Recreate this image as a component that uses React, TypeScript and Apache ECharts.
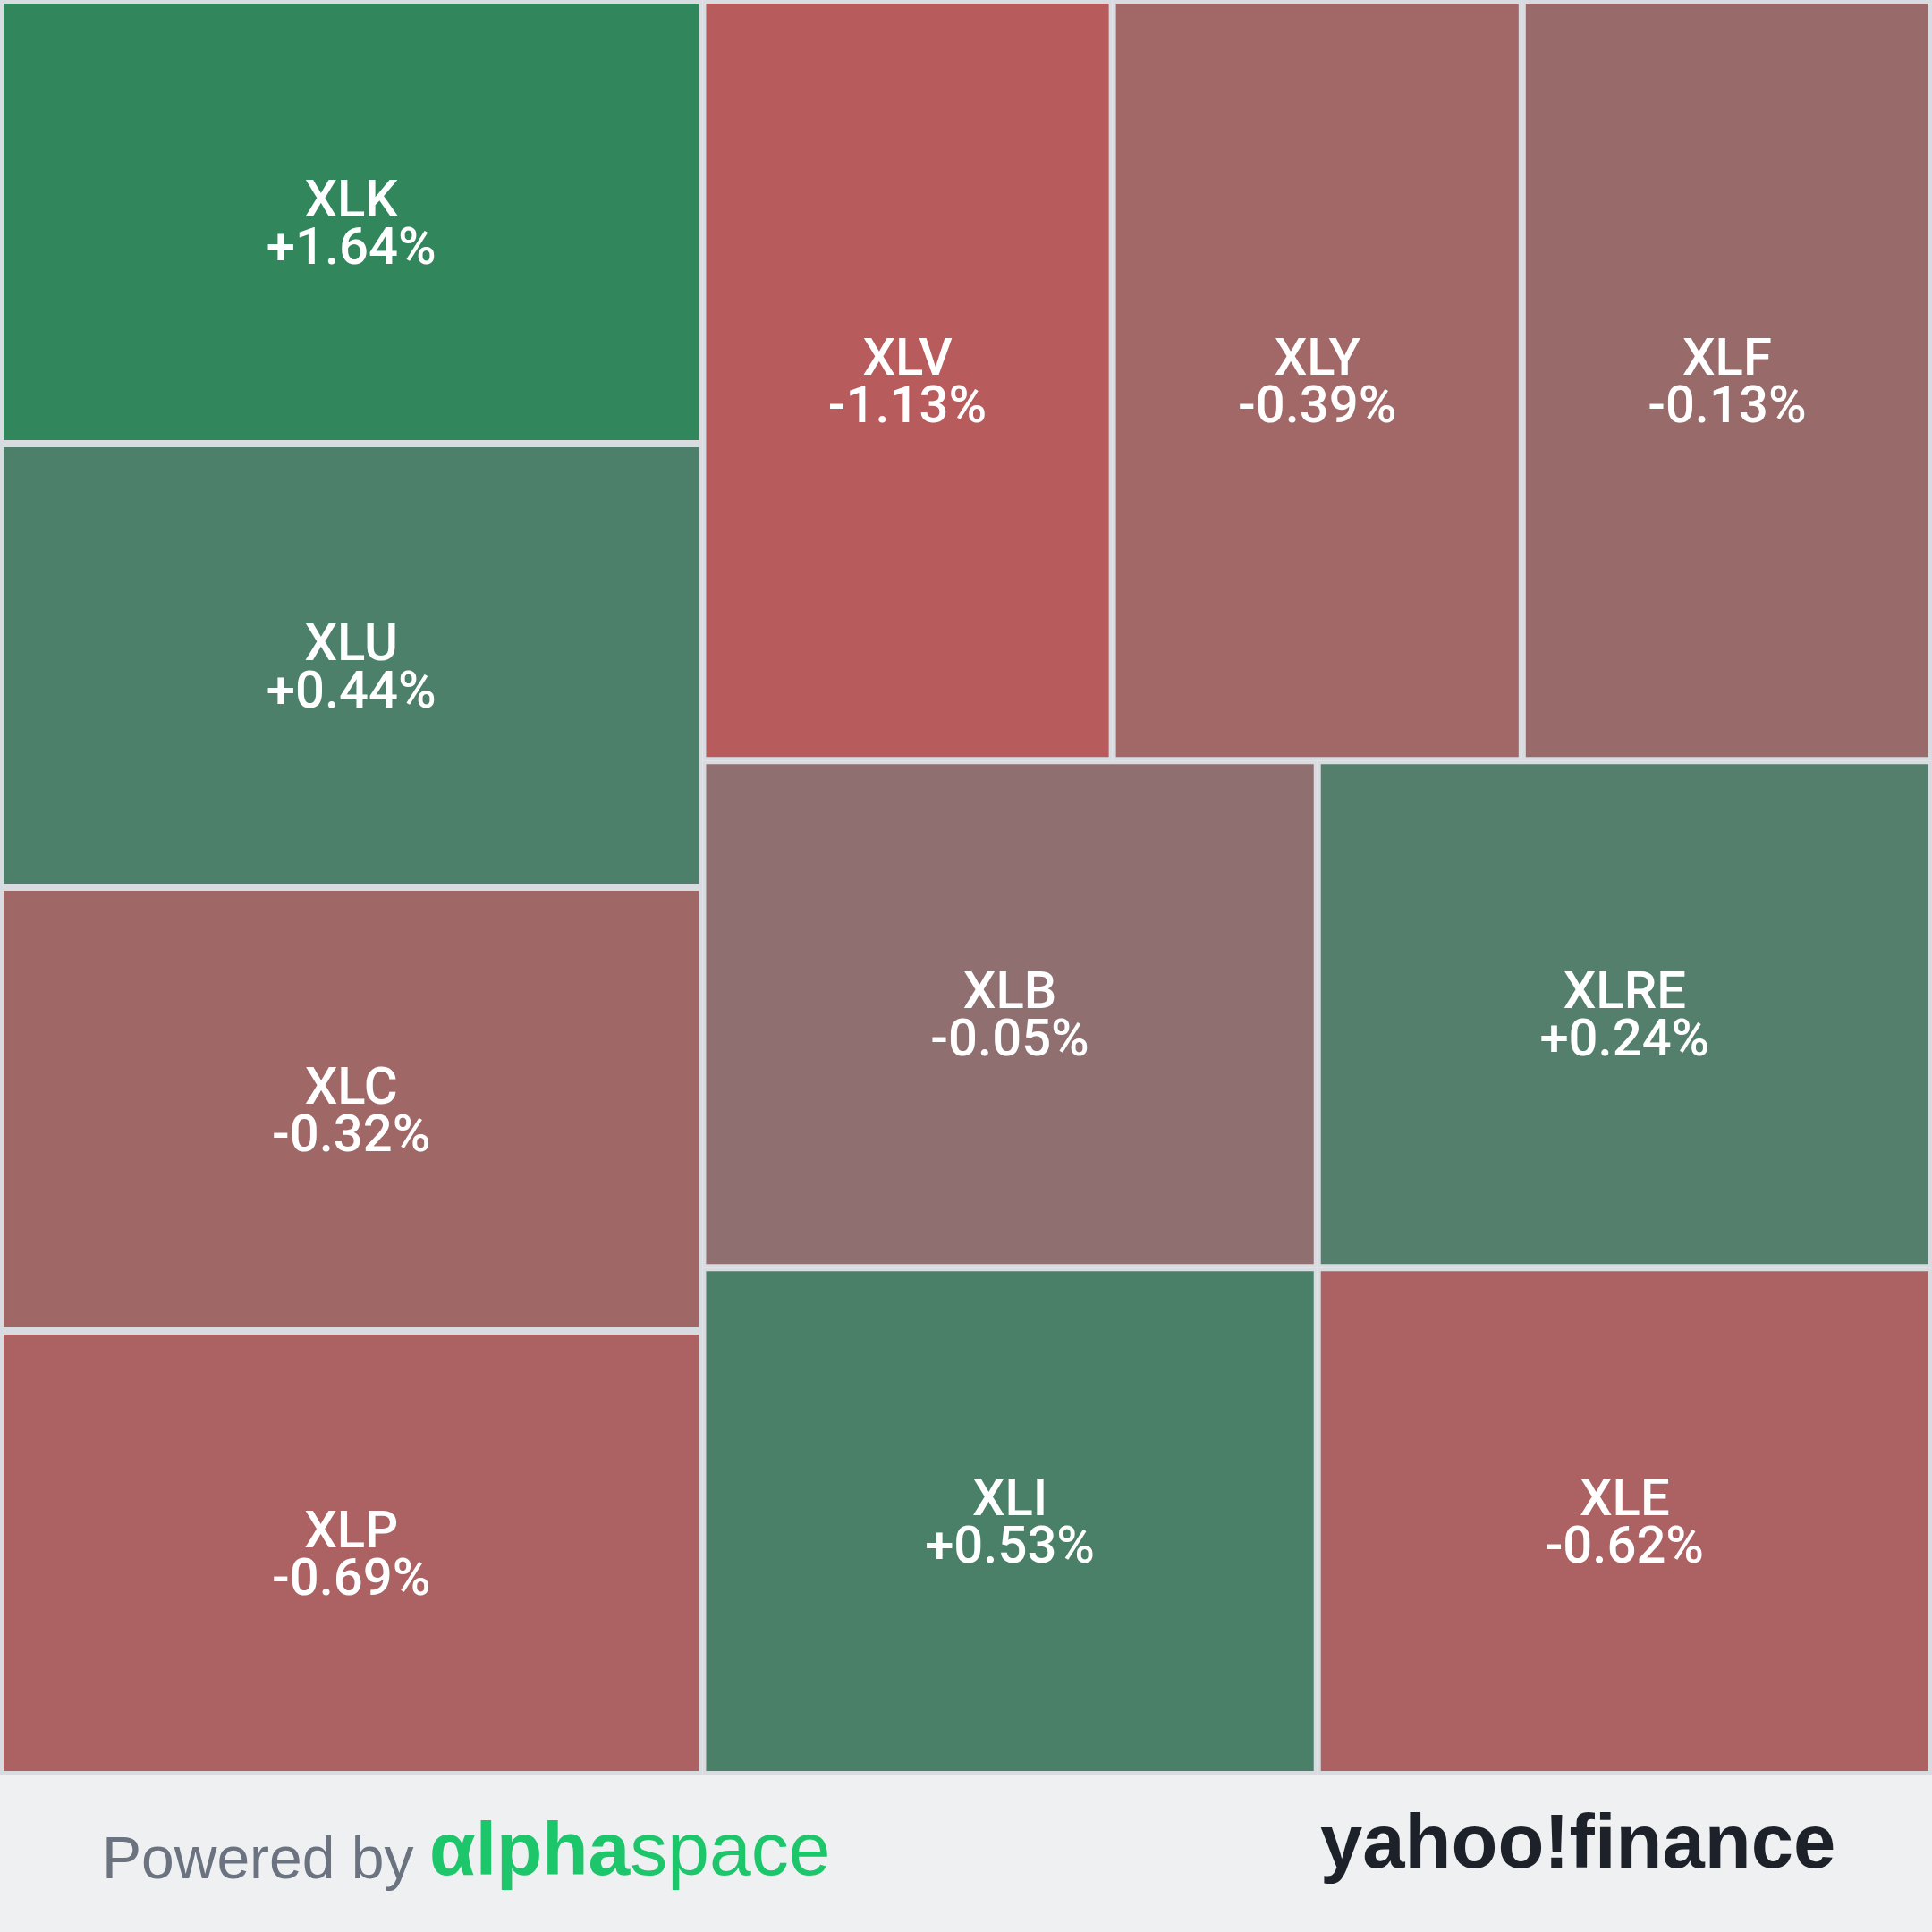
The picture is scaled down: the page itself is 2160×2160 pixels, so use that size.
import React, { useEffect, useRef } from "react";
import * as echarts from "echarts";

const tickers = ["XLK", "XLU", "XLC", "XLP", "XLV", "XLY", "XLF", "XLB", "XLI", "XLRE", "XLE"];
const changes = [1.64, 0.44, -0.32, -0.69, -1.13, -0.39, -0.13, -0.05, 0.53, 0.24, -0.62];
const weights = [1, 1, 1, 1, 1, 1, 1, 1, 1, 1, 1];
const tileColors = [
  "#31865c", "#4c806a", "#a06767", "#ac6163", "#b85b5c", "#a26867",
  "#986a6a", "#906f70", "#4a8068", "#557f6d", "#ac6163",
];

const poweredText = "Powered by";
const brandBold = "αlpha";
const brandLight = "space";
const yahooText = "yahoo!finance";

const fmt = (v: number) => (v > 0 ? "+" : v < 0 ? "-" : "") + Math.abs(v).toFixed(2) + "%";

export default function App() {
  const ref = useRef<HTMLDivElement>(null);
  useEffect(() => {
    if (!ref.current) return;
    const chart = echarts.init(ref.current, undefined, { renderer: "svg" });
    const data = tickers.map((t, i) => ({
      name: t,
      value: weights[i],
      change: changes[i],
      itemStyle: { color: tileColors[i] },
    }));
    chart.setOption({
      animation: false,
      backgroundColor: "#eff0f2",
      tooltip: { show: false },
      series: [
        {
          type: "treemap",
          left: 0,
          top: 0,
          width: 2160,
          height: 1984,
          roam: false,
          nodeClick: false,
          sort: false,
          breadcrumb: { show: false },
          emphasis: { disabled: true },
          levels: [
            { itemStyle: { borderWidth: 0, gapWidth: 0 } },
            { itemStyle: { borderWidth: 4, borderColor: "#d8dbe0", gapWidth: 0 } },
          ],
          label: {
            show: true,
            position: "inside",
            align: "center",
            verticalAlign: "middle",
            padding: 0,
            color: "#ffffff",
            fontFamily: "Roboto, 'Liberation Sans', Arial, sans-serif",
            fontWeight: 500,
            fontSize: 58,
            lineHeight: 53,
            overflow: "none",
            formatter: (p: any) => `${p.name}\n${fmt(p.data.change)}`,
          },
          data,
        },
      ],
      graphic: [
        {
          type: "text",
          left: 114,
          top: 2077 - 33,
          style: {
            text: poweredText,
            fill: "#6b7280",
            font: "400 66px 'Liberation Sans', Arial, sans-serif",
          },
        },
        {
          type: "text",
          x: 480,
          y: 2067,
          style: {
            text: `{b|${brandBold}}{l|${brandLight}}`,
            verticalAlign: "middle",
            align: "left",
            rich: {
              b: {
                fill: "#1dc66a",
                fontSize: 84,
                fontWeight: "bold",
                fontFamily: "'Liberation Sans', Arial, sans-serif",
              },
              l: {
                fill: "#1dc66a",
                fontSize: 84,
                fontWeight: "normal",
                fontFamily: "'Liberation Sans', Arial, sans-serif",
              },
            },
          },
        },
        {
          type: "text",
          x: 1476,
          y: 2058,
          style: {
            text: yahooText,
            fill: "#1d2129",
            verticalAlign: "middle",
            align: "left",
            font: "bold 85px 'Liberation Sans', Arial, sans-serif",
          },
        },
      ],
    });
    return () => chart.dispose();
  }, []);
  return (
    <div
      ref={ref}
      style={{ position: "absolute", left: 0, top: 0, width: 2160, height: 2160 }}
    />
  );
}
